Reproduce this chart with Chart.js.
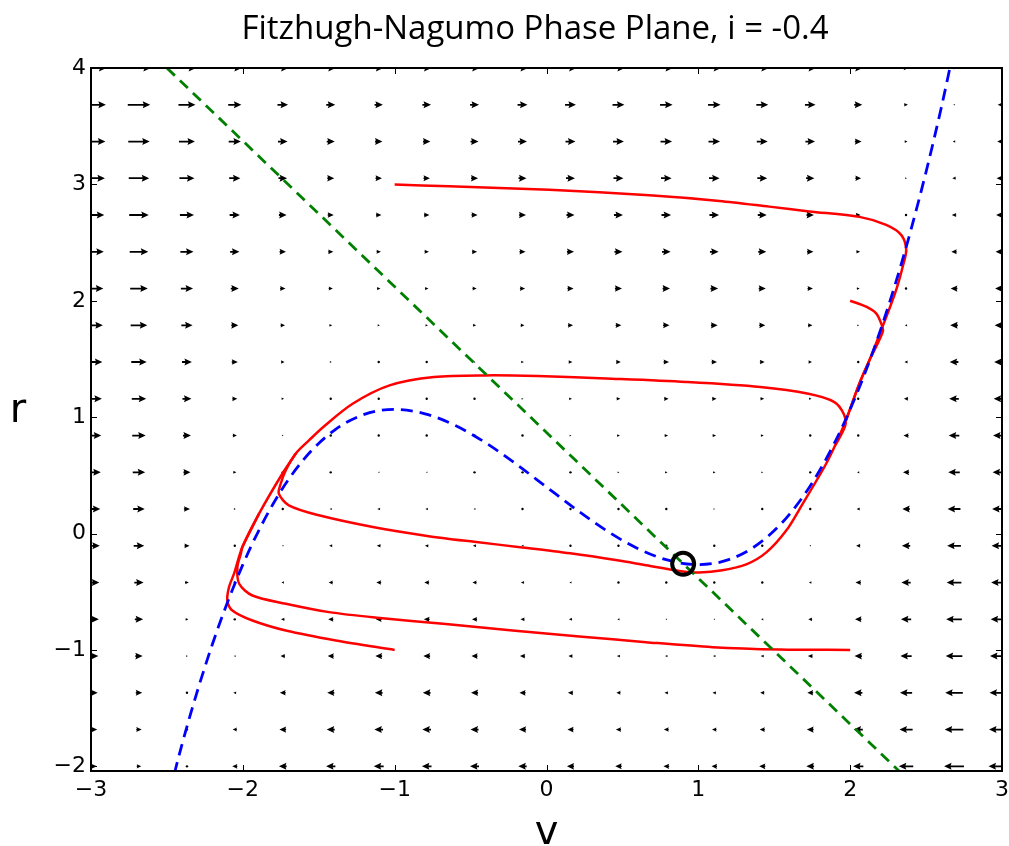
<!DOCTYPE html>
<html>
<head>
<meta charset="utf-8">
<title>Fitzhugh-Nagumo Phase Plane</title>
<script src="https://cdn.jsdelivr.net/npm/chart.js@4.4.0/dist/chart.umd.min.js"></script>
<style>
  html, body { margin: 0; padding: 0; background: #fff; }
  #wrap { width: 1009px; height: 846px; }
</style>
</head>
<body>
<div id="wrap"><canvas id="phase" width="1009" height="846"></canvas></div>
<script>
const titleText = 'Fitzhugh-Nagumo Phase Plane, i = -0.4';

// vector field grid (v across, r up)
const fieldV = [-3.000, -2.684, -2.368, -2.053, -1.737, -1.421, -1.105, -0.789, -0.474, -0.158,
                0.158, 0.474, 0.789, 1.105, 1.421, 1.737, 2.053, 2.368, 2.684, 3.000];
const fieldR = [-2.000, -1.684, -1.368, -1.053, -0.737, -0.421, -0.105, 0.211, 0.526, 0.842,
                1.158, 1.474, 1.789, 2.105, 2.421, 2.737, 3.053, 3.368, 3.684, 4.000];

// dv/dt at each grid point, one row per fieldR value, bottom row first
const flowU = [
  [3.6, 1.4, -0.3, -1.6, -2.4, -2.9, -3.1, -3.0, -2.8, -2.6, -2.2, -2.0, -1.8, -1.7, -1.9, -2.4, -3.2, -4.5, -6.2, -8.4],
  [3.9, 1.7, 0.0, -1.3, -2.1, -2.5, -2.7, -2.7, -2.5, -2.2, -1.9, -1.6, -1.5, -1.4, -1.6, -2.1, -2.9, -4.1, -5.8, -8.1],
  [4.2, 2.0, 0.3, -0.9, -1.8, -2.2, -2.4, -2.4, -2.2, -1.9, -1.6, -1.3, -1.1, -1.1, -1.3, -1.8, -2.6, -3.8, -5.5, -7.8],
  [4.6, 2.3, 0.6, -0.6, -1.4, -1.9, -2.1, -2.1, -1.9, -1.6, -1.3, -1.0, -0.8, -0.8, -1.0, -1.5, -2.3, -3.5, -5.2, -7.5],
  [4.9, 2.6, 0.9, -0.3, -1.1, -1.6, -1.8, -1.8, -1.6, -1.3, -1.0, -0.7, -0.5, -0.5, -0.7, -1.2, -2.0, -3.2, -4.9, -7.1],
  [5.2, 2.9, 1.2, 0.0, -0.8, -1.3, -1.5, -1.5, -1.3, -1.0, -0.7, -0.4, -0.2, -0.2, -0.4, -0.8, -1.7, -2.9, -4.6, -6.8],
  [5.5, 3.3, 1.6, 0.3, -0.5, -1.0, -1.2, -1.1, -1.0, -0.7, -0.4, -0.1, 0.1, 0.2, -0.1, -0.5, -1.3, -2.6, -4.3, -6.5],
  [5.8, 3.6, 1.9, 0.6, -0.2, -0.7, -0.9, -0.8, -0.6, -0.4, 0.0, 0.3, 0.4, 0.5, 0.3, -0.2, -1.0, -2.3, -4.0, -6.2],
  [6.1, 3.9, 2.2, 1.0, 0.1, -0.3, -0.5, -0.5, -0.3, 0.0, 0.3, 0.6, 0.8, 0.8, 0.6, 0.1, -0.7, -1.9, -3.6, -5.9],
  [6.4, 4.2, 2.5, 1.3, 0.5, 0.0, -0.2, -0.2, 0.0, 0.3, 0.6, 0.9, 1.1, 1.1, 0.9, 0.4, -0.4, -1.6, -3.3, -5.6],
  [6.8, 4.5, 2.8, 1.6, 0.8, 0.3, 0.1, 0.1, 0.3, 0.6, 0.9, 1.2, 1.4, 1.4, 1.2, 0.8, -0.1, -1.3, -3.0, -5.2],
  [7.1, 4.8, 3.1, 1.9, 1.1, 0.6, 0.4, 0.4, 0.6, 0.9, 1.2, 1.5, 1.7, 1.7, 1.5, 1.1, 0.2, -1.0, -2.7, -4.9],
  [7.4, 5.2, 3.5, 2.2, 1.4, 0.9, 0.7, 0.8, 1.0, 1.2, 1.6, 1.8, 2.0, 2.1, 1.9, 1.4, 0.6, -0.7, -2.4, -4.6],
  [7.7, 5.5, 3.8, 2.5, 1.7, 1.3, 1.1, 1.1, 1.3, 1.6, 1.9, 2.2, 2.3, 2.4, 2.2, 1.7, 0.9, -0.4, -2.1, -4.3],
  [8.0, 5.8, 4.1, 2.9, 2.0, 1.6, 1.4, 1.4, 1.6, 1.9, 2.2, 2.5, 2.7, 2.7, 2.5, 2.0, 1.2, 0.0, -1.7, -4.0],
  [8.3, 6.1, 4.4, 3.2, 2.4, 1.9, 1.7, 1.7, 1.9, 2.2, 2.5, 2.8, 3.0, 3.0, 2.8, 2.3, 1.5, 0.3, -1.4, -3.7],
  [8.7, 6.4, 4.7, 3.5, 2.7, 2.2, 2.0, 2.0, 2.2, 2.5, 2.8, 3.1, 3.3, 3.3, 3.1, 2.6, 1.8, 0.6, -1.1, -3.4],
  [9.0, 6.7, 5.0, 3.8, 3.0, 2.5, 2.3, 2.3, 2.5, 2.8, 3.1, 3.4, 3.6, 3.6, 3.4, 3.0, 2.1, 0.9, -0.8, -3.0],
  [9.3, 7.0, 5.3, 4.1, 3.3, 2.8, 2.6, 2.7, 2.8, 3.1, 3.4, 3.7, 3.9, 3.9, 3.7, 3.3, 2.5, 1.2, -0.5, -2.7],
  [9.6, 7.4, 5.7, 4.4, 3.6, 3.1, 2.9, 3.0, 3.2, 3.4, 3.8, 4.0, 4.2, 4.3, 4.1, 3.6, 2.8, 1.5, -0.2, -2.4]
];

// nullclines, [v, r]
const vNullcline = [[-2.6, -2.859], [-2.4, -1.808], [-2.2, -0.949], [-2.0, -0.267], [-1.8, 0.256],
  [-1.6, 0.635], [-1.4, 0.885], [-1.2, 1.024], [-1.0, 1.067], [-0.8, 1.029], [-0.6, 0.928],
  [-0.4, 0.779], [-0.2, 0.597], [0.0, 0.4], [0.2, 0.203], [0.4, 0.021], [0.6, -0.128],
  [0.8, -0.229], [1.0, -0.267], [1.2, -0.224], [1.4, -0.085], [1.6, 0.165], [1.8, 0.544],
  [2.0, 1.067], [2.2, 1.749], [2.4, 2.608], [2.6, 3.659], [2.8, 4.917]];
const rNullcline = [[-2.5, 4.0], [2.33, -2.05]];

// trajectories, [v, r]
const trajTop = [[-1.0, 3.0], [-0.641, 2.983], [0.018, 2.953], [0.677, 2.906], [1.138, 2.858],
  [1.467, 2.809], [1.731, 2.768], [2.061, 2.721], [2.237, 2.652], [2.336, 2.566], [2.369, 2.437],
  [2.346, 2.293], [2.303, 2.093], [2.247, 1.892], [2.204, 1.748], [2.127, 1.490], [2.061, 1.290],
  [1.973, 0.974]];
const trajUpper = [[2.0, 2.0], [2.105, 1.949], [2.171, 1.892], [2.204, 1.806], [2.215, 1.734],
  [2.127, 1.490], [2.061, 1.290], [1.973, 0.974]];
const trajLowLeft = [[-1.0, -1.0], [-1.387, -0.919], [-1.717, -0.833], [-1.937, -0.747],
  [-2.069, -0.661], [-2.102, -0.575], [-2.091, -0.460], [-2.058, -0.345], [-2.003, -0.116],
  [-1.893, 0.171], [-1.739, 0.516], [-1.651, 0.688]];
const trajLowRight = [[2.0, -1.0], [1.534, -0.996], [1.094, -0.976], [0.655, -0.933],
  [0.216, -0.884], [-0.224, -0.833], [-0.663, -0.777], [-1.115, -0.723], [-1.432, -0.675],
  [-1.717, -0.603], [-1.937, -0.532], [-2.024, -0.431], [-2.036, -0.288], [-2.013, -0.173],
  [-2.003, -0.116], [-1.893, 0.171]];
const limitCycle = [[1.973, 0.974], [1.896, 0.744], [1.830, 0.572], [1.685, 0.251], [1.580, 0.028],
  [1.448, -0.162], [1.316, -0.265], [1.158, -0.316], [1.006, -0.334], [0.875, -0.321],
  [0.657, -0.273], [0.466, -0.230], [0.156, -0.170], [-0.160, -0.119], [-0.476, -0.071],
  [-0.786, -0.020], [-1.135, 0.054], [-1.499, 0.157], [-1.697, 0.243], [-1.763, 0.343],
  [-1.750, 0.430], [-1.717, 0.544], [-1.651, 0.688], [-1.563, 0.802], [-1.472, 0.914],
  [-1.277, 1.115], [-1.034, 1.273], [-0.740, 1.345], [-0.398, 1.359], [-0.057, 1.353],
  [0.431, 1.330], [0.920, 1.302], [1.408, 1.259], [1.725, 1.201], [1.896, 1.130],
  [1.957, 1.029], [1.968, 0.929], [1.896, 0.744]];
const fixedPoint = [[0.9, -0.26]];

// arrow length in v units per unit of dv/dt
const ARROW_SCALE = 0.0211;
const SHAFT = 1.8, HEAD_LEN = 7.5, HEAD_AXIS = 6.6, HEAD_W = 7;

const pts = a => a.map(([x, y]) => ({x, y}));
const tickFmt = v => (v < 0 ? '\u2212' + Math.abs(v) : String(v));
const tickFont = {family: '"DejaVu Sans"', size: 22};

function drawArrow(ctx, xa, xb, y) {
  const len = Math.abs(xb - xa);
  const dir = xb >= xa ? 1 : -1;
  if (len < 1.6) {
    ctx.beginPath();
    ctx.arc((xa + xb) / 2, y, 1.2, 0, Math.PI * 2);
    ctx.fill();
    return;
  }
  const s = Math.min(1, len / HEAD_LEN);
  const w = SHAFT * s / 2, hl = HEAD_LEN * s, hal = HEAD_AXIS * s, hw = HEAD_W * s / 2;
  ctx.beginPath();
  ctx.moveTo(xa, y - w);
  ctx.lineTo(xb - dir * hal, y - w);
  ctx.lineTo(xb - dir * hl, y - hw);
  ctx.lineTo(xb, y);
  ctx.lineTo(xb - dir * hl, y + hw);
  ctx.lineTo(xb - dir * hal, y + w);
  ctx.lineTo(xa, y + w);
  ctx.closePath();
  ctx.fill();
}

const quiver = {
  id: 'quiver',
  beforeDatasetsDraw(chart) {
    const {ctx, chartArea: a, scales: {x, y}} = chart;
    ctx.save();
    ctx.beginPath();
    ctx.rect(a.left, a.top, a.right - a.left, a.bottom - a.top);
    ctx.clip();
    ctx.fillStyle = '#000';
    fieldR.forEach((r, i) => {
      const py = y.getPixelForValue(r);
      fieldV.forEach((v, j) => {
        const u = flowU[i][j];
        drawArrow(ctx, x.getPixelForValue(v - u * ARROW_SCALE / 2),
                  x.getPixelForValue(v + u * ARROW_SCALE / 2), py);
      });
    });
    ctx.restore();
  }
};

// box round the axes, inward ticks on all sides, x tick labels
const frame = {
  id: 'frame',
  afterDatasetsDraw(chart) {
    const {ctx, chartArea: a, scales: {x, y}} = chart;
    ctx.save();
    ctx.strokeStyle = '#000';
    ctx.lineWidth = 1;
    ctx.beginPath();
    x.ticks.forEach(t => {
      const px = Math.round(x.getPixelForValue(t.value)) + 0.5;
      ctx.moveTo(px, a.bottom); ctx.lineTo(px, a.bottom - 6);
      ctx.moveTo(px, a.top); ctx.lineTo(px, a.top + 6);
    });
    y.ticks.forEach(t => {
      const py = Math.round(y.getPixelForValue(t.value)) + 0.5;
      ctx.moveTo(a.left, py); ctx.lineTo(a.left + 6, py);
      ctx.moveTo(a.right, py); ctx.lineTo(a.right - 6, py);
    });
    ctx.stroke();
    ctx.lineWidth = 2;
    ctx.strokeRect(a.left, a.top, a.right - a.left, a.bottom - a.top);

    ctx.fillStyle = '#000';
    ctx.font = `${tickFont.size}px ${tickFont.family}`;
    ctx.textAlign = 'center';
    ctx.textBaseline = 'top';
    x.ticks.forEach(t => ctx.fillText(tickFmt(t.value), x.getPixelForValue(t.value), a.bottom + 8));
    ctx.restore();
  }
};

const figureText = {
  id: 'figureText',
  afterDraw(chart) {
    const {ctx} = chart;
    ctx.save();
    ctx.fillStyle = '#000';
    ctx.textAlign = 'center';
    ctx.textBaseline = 'alphabetic';
    ctx.font = '33px "Open Sans"';
    ctx.fillText(titleText, 535, 39);
    ctx.font = '40px "DejaVu Sans"';
    ctx.fillText('v', chart.scales.x.getPixelForValue(0), 844);
    ctx.fillText('r', 18, 422);
    ctx.restore();
  }
};

const red = data => ({
  data: pts(data), showLine: true, borderColor: '#ff0000', borderWidth: 2.5,
  pointRadius: 0, tension: 0.3, order: 3
});

new Chart(document.getElementById('phase'), {
  type: 'scatter',
  data: {
    datasets: [
      {data: pts(fixedPoint), pointRadius: 11, pointBorderWidth: 4, pointBorderColor: '#000',
       pointBackgroundColor: 'rgba(0,0,0,0)', order: 0},
      {data: pts(rNullcline), showLine: true, borderColor: '#008000', borderWidth: 2.8,
       borderDash: [11, 7], pointRadius: 0, clip: 0, order: 1},
      {data: pts(vNullcline), showLine: true, borderColor: '#0000ff', borderWidth: 2.8,
       borderDash: [12, 7], pointRadius: 0, cubicInterpolationMode: 'monotone', clip: 0, order: 2},
      red(trajTop), red(trajUpper), red(trajLowLeft), red(trajLowRight), red(limitCycle)
    ]
  },
  options: {
    responsive: false,
    animation: false,
    devicePixelRatio: 1,
    layout: {autoPadding: false, padding: {top: 68, right: 7, left: 0, bottom: 0}},
    plugins: {legend: {display: false}, tooltip: {enabled: false}, title: {display: false}},
    scales: {
      x: {
        type: 'linear', min: -3, max: 3,
        grid: {display: false, drawTicks: false}, border: {display: false},
        ticks: {stepSize: 1, display: false},
        afterFit(s) { s.height = 75; }
      },
      y: {
        type: 'linear', min: -2.04, max: 4,
        grid: {display: false, drawTicks: false}, border: {display: false},
        ticks: {stepSize: 1, includeBounds: false, font: tickFont, color: '#000', padding: 5, callback: tickFmt},
        afterFit(s) { s.width = 91; }
      }
    }
  },
  plugins: [quiver, frame, figureText]
});
</script>
</body>
</html>
